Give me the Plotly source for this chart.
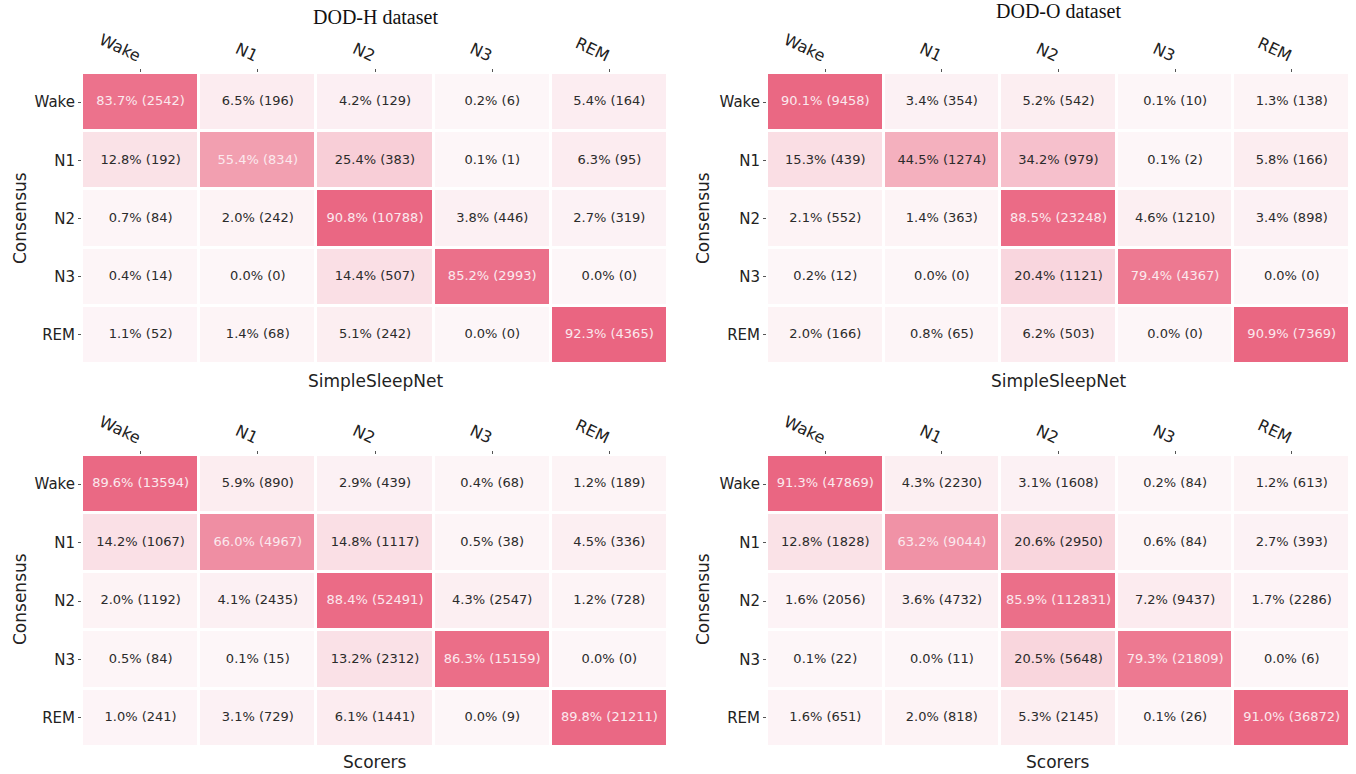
import plotly.graph_objects as go

stages = ["Wake", "N1", "N2", "N3", "REM"]

# DOD-H, SimpleSleepNet
h_net_pct = [[83.7, 6.5, 4.2, 0.2, 5.4],
             [12.8, 55.4, 25.4, 0.1, 6.3],
             [0.7, 2.0, 90.8, 3.8, 2.7],
             [0.4, 0.0, 14.4, 85.2, 0.0],
             [1.1, 1.4, 5.1, 0.0, 92.3]]
h_net_cnt = [[2542, 196, 129, 6, 164],
             [192, 834, 383, 1, 95],
             [84, 242, 10788, 446, 319],
             [14, 0, 507, 2993, 0],
             [52, 68, 242, 0, 4365]]
# DOD-O, SimpleSleepNet
o_net_pct = [[90.1, 3.4, 5.2, 0.1, 1.3],
             [15.3, 44.5, 34.2, 0.1, 5.8],
             [2.1, 1.4, 88.5, 4.6, 3.4],
             [0.2, 0.0, 20.4, 79.4, 0.0],
             [2.0, 0.8, 6.2, 0.0, 90.9]]
o_net_cnt = [[9458, 354, 542, 10, 138],
             [439, 1274, 979, 2, 166],
             [552, 363, 23248, 1210, 898],
             [12, 0, 1121, 4367, 0],
             [166, 65, 503, 0, 7369]]
# DOD-H, Scorers
h_sc_pct = [[89.6, 5.9, 2.9, 0.4, 1.2],
            [14.2, 66.0, 14.8, 0.5, 4.5],
            [2.0, 4.1, 88.4, 4.3, 1.2],
            [0.5, 0.1, 13.2, 86.3, 0.0],
            [1.0, 3.1, 6.1, 0.0, 89.8]]
h_sc_cnt = [[13594, 890, 439, 68, 189],
            [1067, 4967, 1117, 38, 336],
            [1192, 2435, 52491, 2547, 728],
            [84, 15, 2312, 15159, 0],
            [241, 729, 1441, 9, 21211]]
# DOD-O, Scorers
o_sc_pct = [[91.3, 4.3, 3.1, 0.2, 1.2],
            [12.8, 63.2, 20.6, 0.6, 2.7],
            [1.6, 3.6, 85.9, 7.2, 1.7],
            [0.1, 0.0, 20.5, 79.3, 0.0],
            [1.6, 2.0, 5.3, 0.1, 91.0]]
o_sc_cnt = [[47869, 2230, 1608, 84, 613],
            [1828, 9044, 2950, 84, 393],
            [2056, 4732, 112831, 9437, 2286],
            [22, 11, 5648, 21809, 6],
            [651, 818, 2145, 26, 36872]]

titles = ["DOD-H dataset", "DOD-O dataset"]
xtitles = ["SimpleSleepNet", "Scorers"]

W, H = 1356, 774
panels = [
    (h_net_pct, h_net_cnt, (82, 668), (73, 364), ""),
    (o_net_pct, o_net_cnt, (767, 1350), (73, 364), "2"),
    (h_sc_pct, h_sc_cnt, (82, 668), (455, 747), "3"),
    (o_sc_pct, o_sc_cnt, (767, 1350), (455, 747), "4"),
]

colorscale = [[0, "#fdf6f8"], [1, "#ea6581"]]
fig = go.Figure()
layout = {}
for pct, cnt, (x0, x1), (y0, y1), s in panels:
    xa, ya = "x" + s, "y" + s
    fig.add_trace(go.Heatmap(
        z=pct, x=stages, y=stages, xaxis=xa, yaxis=ya,
        colorscale=colorscale, zmin=0, zmax=92, showscale=False,
        xgap=3, ygap=3, hoverinfo="skip"))
    for light in (False, True):
        xs, ys, ts = [], [], []
        for i, r in enumerate(stages):
            for j, c in enumerate(stages):
                if (pct[i][j] > 50) == light:
                    xs.append(c); ys.append(r)
                    ts.append(f"{pct[i][j]:.1f}% ({cnt[i][j]})")
        fig.add_trace(go.Scatter(
            x=xs, y=ys, text=ts, mode="text", xaxis=xa, yaxis=ya,
            textfont=dict(family="DejaVu Sans", size=13,
                          color="#fbe9ee" if light else "#2b2b2b"),
            showlegend=False, hoverinfo="skip"))
    layout["xaxis" + s] = dict(
        domain=[x0 / W, x1 / W], anchor=ya, side="top", tickangle=25,
        ticks="outside", ticklen=3, tickcolor="#555", showgrid=False,
        zeroline=False, showline=False, automargin=False,
        tickfont=dict(family="DejaVu Sans", size=16, color="#222"))
    layout["yaxis" + s] = dict(
        domain=[1 - y1 / H, 1 - y0 / H], anchor=xa, autorange="reversed",
        ticks="outside", ticklen=3, tickcolor="#555", showgrid=False,
        zeroline=False, showline=False, automargin=False,
        tickfont=dict(family="DejaVu Sans", size=15, color="#222"))

annotations = []
for k, (cx, ty) in enumerate([(375, 17), (1058, 11)]):
    annotations.append(dict(text=titles[k], x=cx / W, y=1 - ty / H, xref="paper", yref="paper",
                            xanchor="center", yanchor="middle",
                            showarrow=False, font=dict(family="Liberation Serif", size=20, color="#111")))
for k, (cy) in enumerate([381, 762]):
    for cx in (375, 1058):
        annotations.append(dict(text=xtitles[k], x=cx / W, y=1 - cy / H, xref="paper", yref="paper",
                                xanchor="center", yanchor="middle",
                                showarrow=False, font=dict(family="DejaVu Sans", size=17, color="#222")))
    for lx in (20, 703):
        annotations.append(dict(text="Consensus", x=lx / W, y=1 - (cy - 163) / H, xref="paper", yref="paper",
                                xanchor="center", yanchor="middle",
                                textangle=-90, showarrow=False,
                                font=dict(family="DejaVu Sans", size=17, color="#222")))

fig.update_layout(width=W, height=H, margin=dict(l=0, r=0, t=0, b=0, autoexpand=False),
                  plot_bgcolor="white", paper_bgcolor="white",
                  annotations=annotations, **layout)
fig.write_html("out.html", config={"displayModeBar": False},
               post_script="document.body.style.margin='0';document.body.style.overflow='hidden';")
